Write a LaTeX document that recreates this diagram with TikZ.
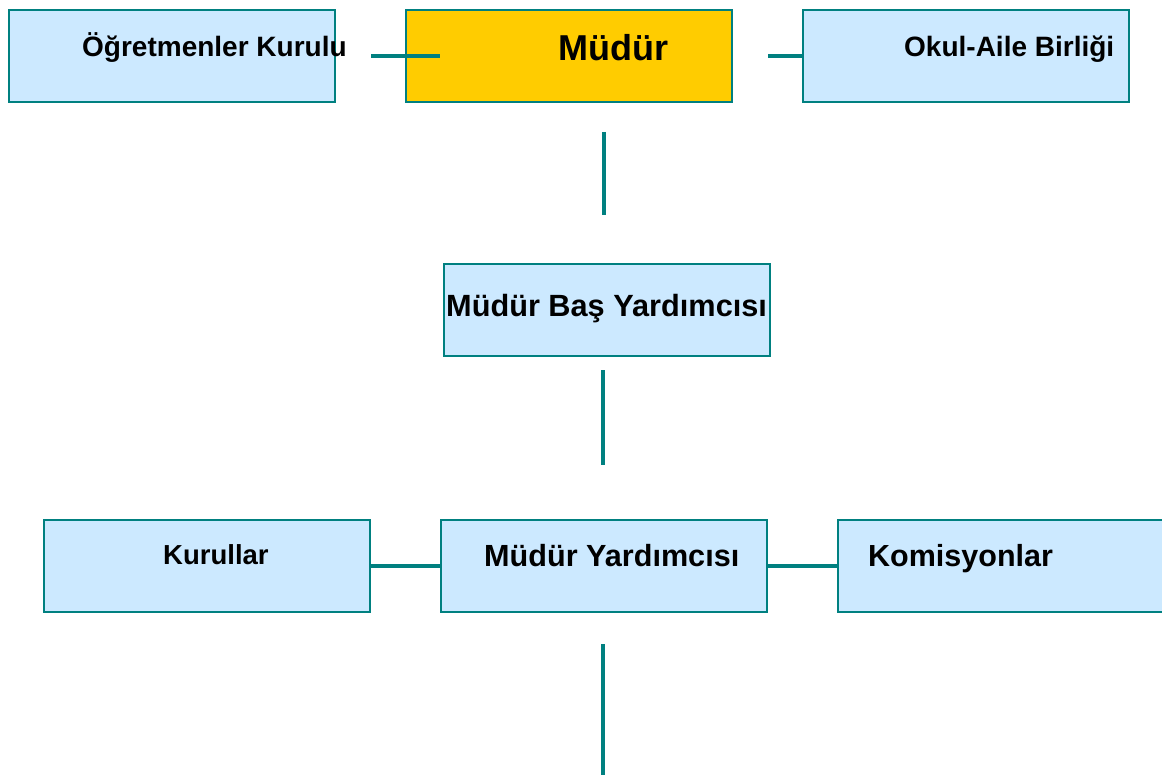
\documentclass[tikz,border=0pt]{standalone}
\usepackage{fontspec}
\setmainfont{Liberation Sans}
\definecolor{teal1}{HTML}{008080}
\definecolor{boxblue}{HTML}{CCE9FF}
\definecolor{gold}{HTML}{FFCC00}
\begin{document}
\begin{tikzpicture}[x=1pt,y=-1pt,
  box/.style={draw=teal1,line width=2.5pt,fill=boxblue,minimum width=326pt,minimum height=92pt,inner sep=0pt,outer sep=0pt,anchor=north west},
  lbl/.style={anchor=base west,inner sep=0pt,font=\bfseries\fontsize{28}{32}\selectfont},
  conn/.style={draw=teal1,line width=4pt}]
\useasboundingbox (0,0) rectangle (1162,778);
% boxes
\node[box] (ok) at (9,10) {};
\node[box,fill=gold] (md) at (406,10) {};
\node[box] (oab) at (803,10) {};
\node[box] (mby) at (444,264) {};
\node[box] (kur) at (44,520) {};
\node[box] (my) at (441,520) {};
\node[box,minimum width=340pt] (kom) at (838,520) {};
% labels
\node[lbl] (tok) at (82,57) {Öğretmenler Kurulu};
\node[lbl,font=\bfseries\fontsize{36}{40}\selectfont] (tmd) at (558,61) {Müdür};
\node[lbl] (toab) at (904,57) {Okul-Aile Birliği};
\node[lbl,font=\bfseries\fontsize{30.7}{34}\selectfont] (tmby) at (446,316) {Müdür Baş Yardımcısı};
\node[lbl,font=\bfseries\fontsize{27.5}{32}\selectfont] (tkur) at (163,564) {Kurullar};
\node[lbl,font=\bfseries\fontsize{30.6}{34}\selectfont] (tmy) at (484,566) {Müdür Yardımcısı};
\node[lbl,font=\bfseries\fontsize{30.5}{34}\selectfont] (tkom) at (868,566) {Komisyonlar};
% free ends of connectors
\coordinate (a1) at (371,56);
\coordinate (a2) at (440,56);
\coordinate (b1) at (768,56);
\coordinate (v1a) at (604,132);
\coordinate (v1b) at (604,215);
\coordinate (v2a) at (603,370);
\coordinate (v2b) at (603,465);
\coordinate (v3a) at (603,644);
\coordinate (v3b) at (603,775);
% connectors
\draw[conn] (a1) -- (a2);
\draw[conn] (b1) -- (oab.west);
\draw[conn] (v1a) -- (v1b);
\draw[conn] (v2a) -- (v2b);
\draw[conn] (kur.east) -- (my.west);
\draw[conn] (my.east) -- (kom.west);
\draw[conn] (v3a) -- (v3b);
\end{tikzpicture}
\end{document}
